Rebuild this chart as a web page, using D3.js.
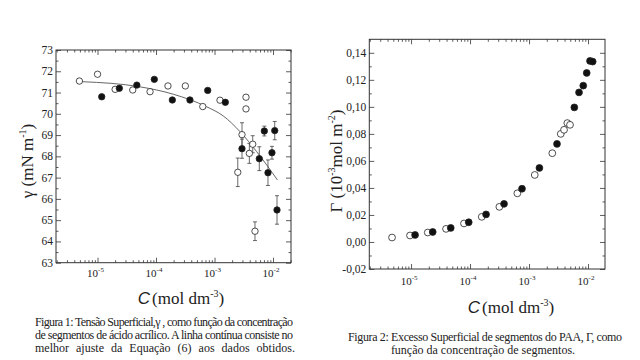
<!DOCTYPE html>
<html><head><meta charset="utf-8">
<script src="https://cdn.jsdelivr.net/npm/d3@7"></script>
<style>
body{margin:0;background:#fff}
svg{display:block}
text{font-family:"Liberation Serif","DejaVu Serif",serif;fill:#222}
</style>
</head><body><svg id="c" width="640" height="360"></svg>
<script>
// ---------- Figure 1 data (surface tension) ----------
const f1OpenC = [4.9e-6, 1.0e-5, 2.0e-5, 4.0e-5, 7.9e-5, 1.6e-4, 3.17e-4, 6.3e-4, 1.24e-3, 2.5e-3, 2.95e-3, 3.45e-3, 3.45e-3, 3.94e-3, 4.5e-3, 4.92e-3];
const f1OpenG = [71.54, 71.86, 71.15, 71.12, 71.04, 71.31, 71.31, 70.34, 70.64, 67.25, 69.02, 70.78, 70.23, 68.14, 68.57, 64.48];
const f1OpenE = [0, 0, 0, 0, 0, 0, 0, 0, 0, 0.67, 0.56, 0, 0, 0.47, 0.4, 0.44];
const f1FillC = [1.18e-5, 2.36e-5, 4.7e-5, 9.35e-5, 1.9e-4, 3.8e-4, 7.65e-4, 1.53e-3, 2.95e-3, 5.83e-3, 7.1e-3, 8.2e-3, 9.6e-3, 1.07e-2, 1.17e-2];
const f1FillG = [70.80, 71.20, 71.35, 71.62, 70.65, 70.65, 71.10, 70.54, 68.36, 67.89, 69.19, 67.23, 68.17, 69.21, 65.48];
const f1FillE = [0, 0, 0, 0, 0, 0, 0, 0, 0.45, 0.56, 0.23, 0.6, 0.3, 0.43, 0.67];
const f1FitC = [5.4e-6, 5.3e-5, 1.98e-4, 7.36e-4, 1.41e-3, 2.73e-3, 5.26e-3, 1.19e-2];
const f1FitG = [71.51, 71.27, 70.92, 70.33, 69.90, 69.16, 68.22, 66.89];
const f1YTicks = [63, 64, 65, 66, 67, 68, 69, 70, 71, 72, 73];

// ---------- Figure 2 data (surface excess) ----------
const f2OpenC = [4.76e-6, 9.6e-6, 1.92e-5, 3.92e-5, 7.9e-5, 1.58e-4, 3.14e-4, 6.34e-4, 1.25e-3, 2.48e-3, 3.45e-3, 3.92e-3, 4.46e-3, 4.95e-3];
const f2OpenV = [0.0033, 0.0048, 0.0070, 0.0097, 0.0137, 0.0186, 0.0260, 0.0360, 0.0496, 0.0657, 0.0800, 0.0830, 0.0880, 0.0867];
const f2FillC = [1.17e-5, 2.33e-5, 4.71e-5, 9.5e-5, 1.87e-4, 3.77e-4, 7.6e-4, 1.50e-3, 2.98e-3, 5.86e-3, 7.04e-3, 8.3e-3, 9.5e-3, 1.08e-2, 1.2e-2];
const f2FillV = [0.0052, 0.0074, 0.0104, 0.0146, 0.0204, 0.0282, 0.0394, 0.0548, 0.0726, 0.0996, 0.1107, 0.1157, 0.1251, 0.1340, 0.1335];
const f2YTicks = [-0.02, 0, 0.02, 0.04, 0.06, 0.08, 0.10, 0.12, 0.14];

const xDecades = [-5, -4, -3, -2];

const svg = d3.select("#c");
const INK = "#333";

function minorLog(dom) {
  const out = [];
  for (let e = -7; e <= -1; e++) for (let m = 1; m <= 9; m++) {
    const v = m * Math.pow(10, e);
    if (v >= dom[0] && v <= dom[1] && m !== 1) out.push(v);
  }
  return out;
}

function panel(o) {
  const x = d3.scaleLog().domain(o.xDom).range([o.left, o.right]);
  const y = d3.scaleLinear().domain(o.yDom).range([o.bottom, o.top]);
  const g = svg.append("g");
  const majX = xDecades.map(e => Math.pow(10, e));
  const minX = minorLog(o.xDom);

  function ax(gen, tr) {
    const a = g.append("g").attr("transform", tr).call(gen);
    a.select(".domain").remove();
    a.selectAll("line").attr("stroke", INK).attr("stroke-width", 0.8);
    a.selectAll("text").remove();
    return a;
  }
  ax(d3.axisBottom(x).tickValues(majX).tickSize(-5), `translate(0,${o.bottom})`);
  ax(d3.axisBottom(x).tickValues(minX).tickSize(-2.5), `translate(0,${o.bottom})`);
  ax(d3.axisTop(x).tickValues(majX).tickSize(-5), `translate(0,${o.top})`);
  ax(d3.axisTop(x).tickValues(minX).tickSize(-2.5), `translate(0,${o.top})`);
  ax(d3.axisLeft(y).tickValues(o.yTicks).tickSize(-5), `translate(${o.left},0)`);
  ax(d3.axisLeft(y).tickValues(o.yMinor).tickSize(-2.5), `translate(${o.left},0)`);
  ax(d3.axisRight(y).tickValues(o.yTicks).tickSize(-5), `translate(${o.right},0)`);
  ax(d3.axisRight(y).tickValues(o.yMinor).tickSize(-2.5), `translate(${o.right},0)`);

  g.append("rect").attr("x", o.left).attr("y", o.top)
    .attr("width", o.right - o.left).attr("height", o.bottom - o.top)
    .attr("fill", "none").attr("stroke", INK).attr("stroke-width", 1);

  g.selectAll(".yl").data(o.yTicks).join("text")
    .attr("x", o.left - 3).attr("y", d => y(d) + 4)
    .attr("text-anchor", "end").attr("font-size", 11.5)
    .text(o.yFmt);
  const xl = g.selectAll(".xl").data(xDecades).join("text")
    .attr("x", d => x(Math.pow(10, d)) - 2).attr("y", o.bottom + o.xlOff)
    .attr("text-anchor", "middle").attr("font-size", 11);
  xl.append("tspan").text("10");
  xl.append("tspan").attr("dy", -5).attr("font-size", 7).text(d => "-" + (-d));

  return {x, y, g};
}

function points(p, cs, vs, filled, r) {
  p.g.append("g").selectAll("circle").data(cs).join("circle")
    .attr("cx", d => p.x(d)).attr("cy", (d, i) => p.y(vs[i])).attr("r", r)
    .attr("fill", filled ? "#111" : "#fff").attr("stroke", "#222").attr("stroke-width", 0.8);
}
function errs(p, cs, vs, es) {
  const gg = p.g.append("g").attr("stroke", "#444").attr("stroke-width", 0.8);
  cs.forEach((c, i) => {
    if (!es[i]) return;
    const cx = p.x(c), y1 = p.y(vs[i] - es[i]), y2 = p.y(vs[i] + es[i]);
    gg.append("line").attr("x1", cx).attr("x2", cx).attr("y1", y1).attr("y2", y2);
    gg.append("line").attr("x1", cx - 2).attr("x2", cx + 2).attr("y1", y1).attr("y2", y1);
    gg.append("line").attr("x1", cx - 2).attr("x2", cx + 2).attr("y1", y2).attr("y2", y2);
  });
}

// ---------- Panel 1 ----------
const p1 = panel({
  left: 56, right: 291, top: 50, bottom: 262.7,
  xDom: [1.95e-6, 2.03e-2], yDom: [63, 73],
  yTicks: f1YTicks, yMinor: d3.range(63.5, 73, 1),
  yFmt: d => d, xlOff: 14
});
p1.g.append("path")
  .attr("d", d3.line().curve(d3.curveMonotoneX)
    .x(d => p1.x(d)).y((d, i) => p1.y(f1FitG[i]))(f1FitC))
  .attr("fill", "none").attr("stroke", "#666").attr("stroke-width", 1);
errs(p1, f1OpenC, f1OpenG, f1OpenE);
errs(p1, f1FillC, f1FillG, f1FillE);
points(p1, f1OpenC, f1OpenG, false, 3.2);
points(p1, f1FillC, f1FillG, true, 3.2);

// ---------- Panel 2 ----------
const p2 = panel({
  left: 369.3, right: 605, top: 39.3, bottom: 269,
  xDom: [1.96e-6, 1.94e-2], yDom: [-0.02, 0.15],
  yTicks: f2YTicks, yMinor: d3.range(-0.01, 0.15, 0.02),
  yFmt: d => d3.format(".2f")(d).replace(".", ",").replace("−", "-"), xlOff: 16
});
points(p2, f2OpenC, f2OpenV, false, 3.4);
points(p2, f2FillC, f2FillV, true, 3.4);

// ---------- Axis titles ----------
function xTitle(cx, by) {
  const t = svg.append("text").attr("x", cx).attr("y", by).attr("text-anchor", "middle").attr("font-size", 17);
  t.append("tspan").attr("font-family", "Liberation Sans, Arial, sans-serif").attr("font-style", "italic").text("C");
  t.append("tspan").attr("dx", 2).text("(mol dm");
  t.append("tspan").attr("dy", -7).attr("font-size", 10).text("-3");
  t.append("tspan").attr("dy", 7).text(")");
}
xTitle(181, 304);
xTitle(511, 313);

function yTitle(cx, cy, parts) {
  const t = svg.append("text").attr("transform", `translate(${cx},${cy}) rotate(-90)`)
    .attr("text-anchor", "middle").attr("font-size", 17);
  parts.forEach(p => {
    const s = t.append("tspan").text(p[0]);
    if (p[1] === "sup") s.attr("dy", -7).attr("font-size", 10);
    if (p[1] === "down") s.attr("dy", 7);
  });
}
yTitle(33, 161, [["γ (mN m"], ["-1", "sup"], [")", "down"]]);
yTitle(342, 161, [["Γ (10"], ["-3", "sup"], ["mol m", "down"], ["-2", "sup"], [")", "down"]]);

// ---------- Captions ----------
const cap1 = [
  "Figura 1: Tensão Superficial,γ , como função da concentração",
  "de segmentos de ácido acrílico. A linha contínua consiste no",
  "melhor ajuste da Equação (6) aos dados obtidos."
];
cap1.forEach((s, i) => {
  const t = svg.append("text").attr("x", 35).attr("y", 325.5 + i * 13.4).attr("font-size", 12)
    .attr("textLength", 258).attr("lengthAdjust", "spacing").text(s);
  if (i === 2) t.attr("textLength", null).attr("word-spacing", 4);
});
const cap2 = [
  "Figura 2: Excesso Superficial de segmentos do PAA, Γ, como",
  "função da concentração de segmentos."
];
svg.append("text").attr("x", 485).attr("y", 341).attr("font-size", 12)
  .attr("text-anchor", "middle").attr("textLength", 274).attr("lengthAdjust", "spacing").text(cap2[0]);
svg.append("text").attr("x", 483).attr("y", 353.5).attr("font-size", 12)
  .attr("text-anchor", "middle").text(cap2[1]);
</script>
</body></html>
